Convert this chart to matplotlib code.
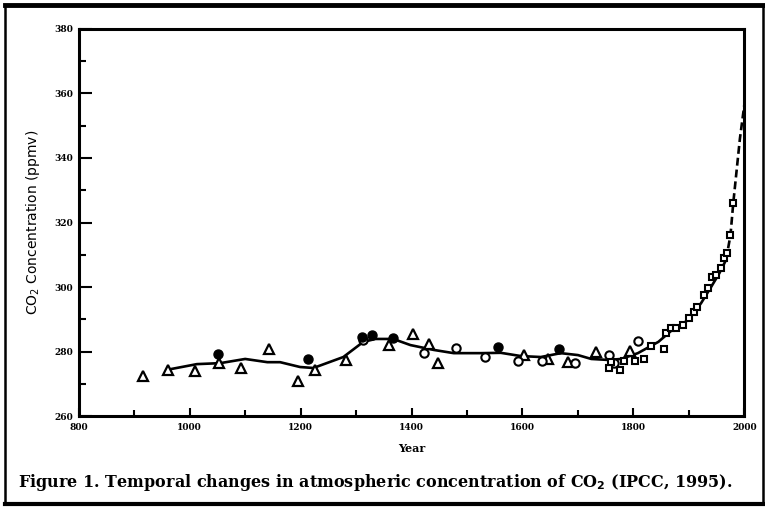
import numpy as np
import matplotlib
matplotlib.use("Agg")
import matplotlib.pyplot as plt
from matplotlib.patches import Rectangle
from matplotlib.ticker import MultipleLocator

# open triangles (ice core)
tri_year = [916, 961, 1010, 1053, 1093, 1143, 1196, 1226, 1281, 1360, 1402, 1432, 1447,
            1603, 1646, 1682, 1733, 1794]
tri_co2 = [272.4, 274.3, 274.0, 276.4, 274.9, 280.8, 270.9, 274.3, 277.4, 282.0, 285.4, 282.3, 276.4,
           278.9, 277.7, 276.7, 279.8, 280.2]

# filled circles
fill_year = [1051, 1214, 1311, 1328, 1367, 1555, 1666]
fill_co2 = [279.2, 277.7, 284.5, 285.0, 284.2, 281.4, 280.8]

# open circles
circ_year = [1313, 1422, 1481, 1532, 1592, 1635, 1695, 1756, 1765, 1808]
circ_co2 = [283.5, 279.5, 281.1, 278.3, 277.0, 277.0, 276.4, 278.9, 276.4, 283.4]

# open squares
sq_year = [1756, 1760, 1776, 1783, 1803, 1819, 1832, 1855, 1859, 1868, 1877, 1890, 1900,
           1910, 1915, 1928, 1935, 1942, 1949, 1958, 1964, 1969, 1975, 1980]
sq_co2 = [274.9, 276.7, 274.3, 277.0, 277.0, 277.7, 281.7, 280.8, 285.7, 287.3, 287.3, 288.2, 290.4,
          292.2, 293.8, 297.5, 299.7, 303.1, 303.7, 305.9, 309.0, 310.5, 316.1, 326.0]

# smoothed record
smooth_year = [961, 1013, 1055, 1100, 1140, 1163, 1199, 1223, 1277, 1313, 1335, 1367, 1398, 1440,
               1476, 1525, 1561, 1597, 1633, 1669, 1700, 1724, 1754, 1778, 1808, 1845, 1868, 1899,
               1922, 1940, 1955, 1967]
smooth_co2 = [274.4, 276.1, 276.4, 277.7, 276.7, 276.7, 275.2, 274.9, 278.3, 283.0, 283.9, 283.9, 282.0, 280.5,
              279.5, 279.5, 279.6, 278.6, 278.3, 279.5, 278.9, 277.7, 277.4, 277.7, 279.5, 283.0, 286.4, 289.8,
              295.0, 300.0, 304.3, 308.4]

# atmospheric record (dashed)
dash_year = [1967, 1975, 1980, 1986, 1992, 2000]
dash_co2 = [308.4, 316.1, 326.0, 336.0, 346.0, 356.5]

serif = "DejaVu Serif"

fig = plt.figure(figsize=(7.65, 5.08), dpi=100)
ax = fig.add_axes([0.103, 0.181, 0.870, 0.762])

ax.plot(smooth_year, smooth_co2, color="black", lw=1.9, zorder=2)
ax.plot(dash_year, dash_co2, color="black", lw=1.9, ls=(0, (3, 1.5)), zorder=2, clip_on=False)
ax.plot(tri_year, tri_co2, ls="none", marker="^", ms=6.5, mfc="white", mec="black", mew=1.6, zorder=3)
ax.plot(circ_year, circ_co2, ls="none", marker="o", ms=6, mfc="white", mec="black", mew=1.5, zorder=3)
ax.plot(fill_year, fill_co2, ls="none", marker="o", ms=6.5, mfc="black", mec="black", zorder=3)
ax.plot(sq_year, sq_co2, ls="none", marker="s", ms=4.6, mfc="white", mec="black", mew=1.5, zorder=3)

ax.set_xlim(800, 2000)
ax.set_ylim(260, 380)
ax.xaxis.set_major_locator(MultipleLocator(200))
ax.xaxis.set_minor_locator(MultipleLocator(100))
ax.yaxis.set_major_locator(MultipleLocator(20))
ax.yaxis.set_minor_locator(MultipleLocator(10))
ax.tick_params(axis="both", which="both", direction="in", width=1.5, top=False, right=False)
ax.tick_params(axis="y", which="major", length=9, pad=4)
ax.tick_params(axis="y", which="minor", length=5)
ax.tick_params(axis="x", which="major", length=6, pad=5)
ax.tick_params(axis="x", which="minor", length=4)
for lab in ax.get_xticklabels() + ax.get_yticklabels():
    lab.set_fontfamily(serif)
    lab.set_fontweight("bold")
    lab.set_fontsize(6.5)
for s in ax.spines.values():
    s.set_linewidth(2.2)

ax.set_xlabel("Year", fontfamily=serif, fontweight="bold", fontsize=8, labelpad=8)
ax.set_ylabel("CO$_2$ Concentration (ppmv)", fontsize=10, labelpad=9)

fig.text(0.024, 0.051, "Figure 1. Temporal changes in atmospheric concentration of CO$_\\mathbf{2}$ (IPCC, 1995).",
         fontfamily=serif, fontweight="bold", fontsize=11.5, ha="left", va="center")

# page frame
fig.patches.append(Rectangle((0.007, 0.008), 0.99, 0.982, transform=fig.transFigure,
                             fill=False, ec="black", lw=1.8))
fig.add_artist(plt.Line2D([0.007, 1.0], [0.99, 0.99], transform=fig.transFigure, color="black", lw=3.5))
fig.add_artist(plt.Line2D([0.007, 1.0], [0.008, 0.008], transform=fig.transFigure, color="black", lw=3.0))

fig.savefig("out.png", dpi=100)
